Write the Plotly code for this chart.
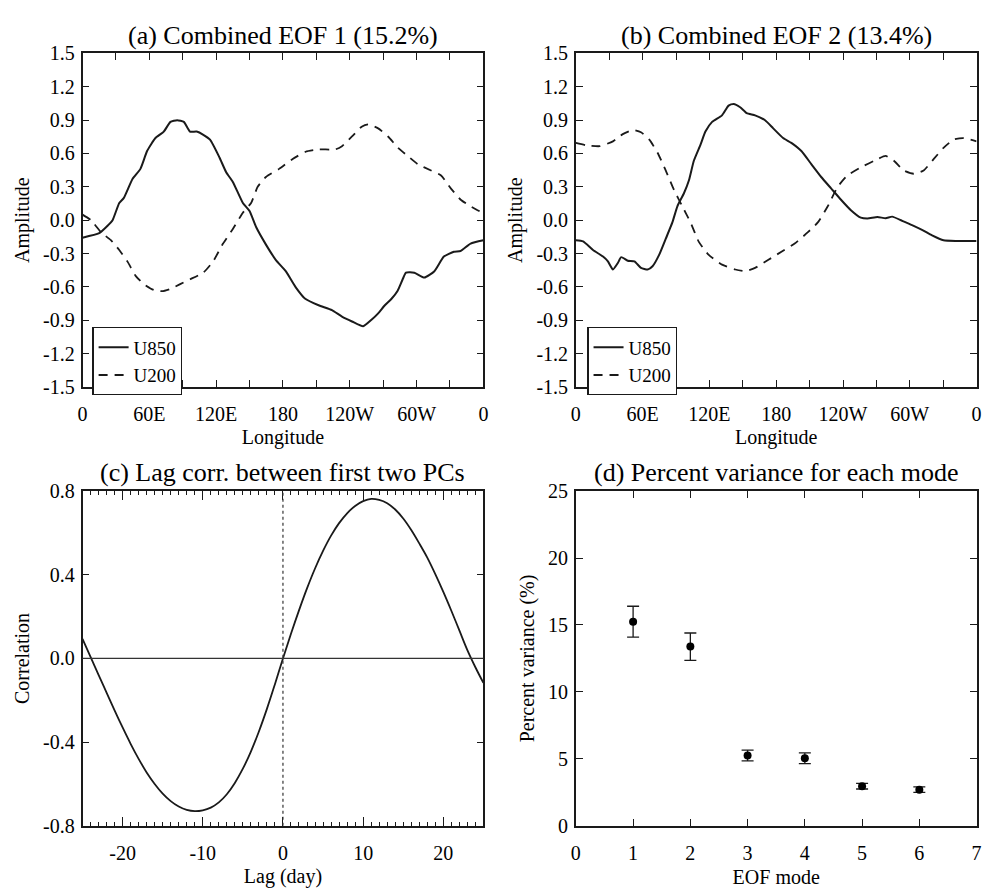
import plotly.graph_objects as go

# ---------------- data ----------------
# (a) Combined EOF 1
a_u850_lon = [0, 15, 22.5, 27, 33, 37, 45, 52, 58, 65.5, 73, 79, 85, 91, 96.5, 102.5, 108.5, 114.5,
              123, 129, 135, 144, 150, 156, 165, 173.5, 182.5, 191.5, 200, 212, 224, 233, 242, 252,
              259.5, 265.5, 271.5, 277.5, 283, 287.5, 290.5, 298, 307, 316, 324.5, 333.5, 339.5, 348.5, 360]
a_u850_val = [-0.157, -0.117, -0.05, 0.0, 0.155, 0.198, 0.373, 0.461, 0.621, 0.738, 0.796, 0.883, 0.898,
              0.883, 0.796, 0.796, 0.767, 0.723, 0.563, 0.431, 0.344, 0.155, 0.082, -0.064, -0.224,
              -0.356, -0.458, -0.603, -0.706, -0.764, -0.808, -0.866, -0.910, -0.953, -0.895, -0.837,
              -0.764, -0.706, -0.633, -0.531, -0.472, -0.472, -0.516, -0.458, -0.327, -0.283, -0.277,
              -0.210, -0.181]
a_u200_lon = [0, 7.7, 16.6, 25.5, 33, 40.3, 47.7, 55, 64, 71.4, 78.8, 87.7, 96.6, 108.4, 117.3, 126.2,
              135, 144, 151.4, 157.3, 164.7, 176.6, 188.4, 200.3, 212, 227, 233, 242, 250.7, 256.6,
              265.5, 274.4, 283.3, 292, 301, 313, 322, 330.7, 339.6, 348.4, 360]
a_u200_val = [0.05, 0.0, -0.108, -0.18, -0.268, -0.37, -0.50, -0.574, -0.627, -0.638, -0.618, -0.574,
              -0.531, -0.472, -0.37, -0.21, -0.079, 0.067, 0.155, 0.30, 0.388, 0.461, 0.548, 0.615,
              0.636, 0.636, 0.665, 0.752, 0.84, 0.86, 0.825, 0.752, 0.65, 0.577, 0.504, 0.446, 0.402,
              0.286, 0.184, 0.125, 0.061]

# (b) Combined EOF 2
b_u850_lon = [0, 6.5, 15.4, 24.4, 28.8, 33.3, 37.7, 40.7, 46.6, 52.6, 58.5, 64.5, 68.9, 74.8, 80.8,
              86.7, 91.2, 97.1, 101.6, 106, 112, 116.4, 122.4, 131.3, 137.2, 141.7, 147.6, 153.5, 161,
              170, 177.3, 186.2, 193.6, 202.6, 211.5, 220.4, 229.3, 238.2, 247.1, 256, 262, 271,
              278.3, 284.2, 293.2, 302, 311, 320, 330.3, 342, 360]
b_u850_val = [-0.18, -0.19, -0.268, -0.327, -0.37, -0.443, -0.385, -0.332, -0.364, -0.37, -0.429,
              -0.443, -0.414, -0.312, -0.166, -0.02, 0.125, 0.242, 0.359, 0.534, 0.679, 0.796, 0.883,
              0.942, 1.029, 1.044, 1.015, 0.962, 0.942, 0.898, 0.825, 0.738, 0.694, 0.621, 0.504,
              0.388, 0.286, 0.184, 0.09, 0.023, 0.015, 0.029, 0.017, 0.032, -0.006, -0.044, -0.087,
              -0.137, -0.181, -0.187, -0.187]
b_u200_lon = [0, 9.5, 21.4, 33.3, 42.2, 51, 58.5, 66, 73.4, 80.8, 88.2, 95.6, 103, 110.5, 119.4,
              131.3, 143.2, 152, 161, 173, 184.7, 196.6, 208.5, 217.4, 226.3, 235.2, 244, 256, 268,
              278.3, 285.7, 294.6, 303.5, 312.4, 321.4, 330.3, 339.2, 348, 360]
b_u200_val = [0.694, 0.673, 0.665, 0.708, 0.773, 0.81, 0.79, 0.723, 0.606, 0.446, 0.271, 0.125,
              -0.02, -0.195, -0.312, -0.399, -0.443, -0.458, -0.429, -0.356, -0.283, -0.21, -0.108,
              -0.02, 0.125, 0.30, 0.402, 0.475, 0.534, 0.577, 0.534, 0.446, 0.417, 0.446, 0.548,
              0.65, 0.723, 0.738, 0.708]

# (c) Lag correlation between PC1 and PC2 (lag -25 ... 25 days)
lag_days = list(range(-25, 26))
lag_corr = [0.093, 0.008, -0.078, -0.163, -0.248, -0.330, -0.408, -0.480, -0.545, -0.600,
            -0.646, -0.682, -0.708, -0.724, -0.730, -0.726, -0.713, -0.688, -0.649, -0.595,
            -0.527, -0.445, -0.349, -0.241, -0.123, 0.0,
            0.118, 0.230, 0.335, 0.430, 0.514, 0.587, 0.647, 0.694, 0.729, 0.752,
            0.763, 0.758, 0.742, 0.712, 0.669, 0.614, 0.550, 0.482, 0.403, 0.318,
            0.228, 0.134, 0.040, -0.042, -0.117]

# (d) Percent variance
eof_mode = [1, 2, 3, 4, 5, 6]
pct_var = [15.25, 13.4, 5.25, 5.05, 2.95, 2.7]
pct_err_plus = [1.15, 1.0, 0.4, 0.4, 0.22, 0.2]
pct_err_minus = [1.15, 1.05, 0.4, 0.4, 0.2, 0.2]

# tick labels
lon_tickvals = [0, 30, 60, 90, 120, 150, 180, 210, 240, 270, 300, 330, 360]
lon_ticktext = ["0", "", "60E", "", "120E", "", "180", "", "120W", "", "60W", "", "0"]
amp_tickvals = [1.5, 1.2, 0.9, 0.6, 0.3, 0.0, -0.3, -0.6, -0.9, -1.2, -1.5]
amp_ticktext = ["1.5", "1.2", "0.9", "0.6", "0.3", "0.0", "-0.3", "-0.6", "-0.9", "-1.2", "-1.5"]
corr_tickvals = [0.8, 0.4, 0.0, -0.4, -0.8]
corr_ticktext = ["0.8", "0.4", "0.0", "-0.4", "-0.8"]
lag_tickvals = [-20, -10, 0, 10, 20]
lag_ticktext = ["-20", "-10", "0", "10", "20"]

titles = ["(a) Combined EOF 1 (15.2%)", "(b) Combined EOF 2 (13.4%)",
          "(c) Lag corr. between first two PCs", "(d) Percent variance for each mode"]

# ---------------- figure ----------------
FONT = "Liberation Serif"
INK = "#1a1a1a"
W, H = 988, 888

xa_dom = [78.3 / W, 483.3 / W]
xb_dom = [576.7 / W, 981.5 / W]
top_dom = [1 - 385.7 / H, 1 - 43.3 / H]
bot_dom = [1 - 835.5 / H, 1 - 492.3 / H]

fig = go.Figure()

solid = dict(color=INK, width=2)
dashed = dict(color=INK, width=1.8, dash="9px,7px")

fig.add_trace(go.Scatter(x=a_u850_lon, y=a_u850_val, mode="lines", name="U850",
                         line=dict(shape="spline", smoothing=0.5, **solid), xaxis="x", yaxis="y",
                         legend="legend"))
fig.add_trace(go.Scatter(x=a_u200_lon, y=a_u200_val, mode="lines", name="U200",
                         line=dict(shape="spline", smoothing=0.5, **dashed), xaxis="x", yaxis="y",
                         legend="legend"))
fig.add_trace(go.Scatter(x=b_u850_lon, y=b_u850_val, mode="lines", name="U850",
                         line=dict(shape="spline", smoothing=0.5, **solid), xaxis="x2", yaxis="y2",
                         legend="legend2"))
fig.add_trace(go.Scatter(x=b_u200_lon, y=b_u200_val, mode="lines", name="U200",
                         line=dict(shape="spline", smoothing=0.5, **dashed), xaxis="x2", yaxis="y2",
                         legend="legend2"))
fig.add_trace(go.Scatter(x=lag_days, y=lag_corr, mode="lines", showlegend=False,
                         line=dict(shape="spline", smoothing=1.0, color=INK, width=1.8),
                         xaxis="x3", yaxis="y3"))
fig.add_trace(go.Scatter(x=eof_mode, y=pct_var, mode="markers", showlegend=False,
                         marker=dict(color="black", size=8),
                         error_y=dict(type="data", symmetric=False, array=pct_err_plus,
                                      arrayminus=pct_err_minus, color=INK, thickness=1.3, width=6),
                         xaxis="x4", yaxis="y4"))

tickfont = dict(family=FONT, size=20, color="black")
titlefont = dict(family=FONT, size=20, color="black")

common = dict(showline=True, linecolor=INK, linewidth=1.5, mirror="ticks", ticks="inside",
              tickcolor=INK, tickwidth=1.2, ticklen=7, showgrid=False, zeroline=False,
              tickfont=tickfont, ticklabeloverflow="allow")
xcommon = {**common, "ticklabelstandoff": 8}
ycommon = {**common, "ticklabelstandoff": 2}
lag_minor = dict(dtick=1, ticks="inside", ticklen=4, tickwidth=1, tickcolor=INK)

fig.update_layout(
    width=W, height=H, margin=dict(l=0, r=0, t=0, b=0),
    paper_bgcolor="white", plot_bgcolor="white",
    font=dict(family=FONT, size=20, color="black"),
    xaxis=dict(domain=xa_dom, anchor="y", range=[0, 360], tickvals=lon_tickvals,
               ticktext=lon_ticktext, title=dict(text="Longitude", font=titlefont, standoff=6),
               **xcommon),
    yaxis=dict(domain=top_dom, anchor="x", range=[-1.5, 1.5], tickvals=amp_tickvals,
               ticktext=amp_ticktext, title=dict(text="Amplitude", font=titlefont, standoff=8),
               **ycommon),
    xaxis2=dict(domain=xb_dom, anchor="y2", range=[0, 360], tickvals=lon_tickvals,
                ticktext=lon_ticktext, title=dict(text="Longitude", font=titlefont, standoff=6),
                **xcommon),
    yaxis2=dict(domain=top_dom, anchor="x2", range=[-1.5, 1.5], tickvals=amp_tickvals,
                ticktext=amp_ticktext, title=dict(text="Amplitude", font=titlefont, standoff=8),
                **ycommon),
    xaxis3=dict(domain=xa_dom, anchor="y3", range=[-25, 25], tickvals=lag_tickvals,
                ticktext=lag_ticktext, title=dict(text="Lag (day)", font=titlefont, standoff=7),
                minor=lag_minor, **{**xcommon, "ticklen": 9}),
    # top copy of the lag axis so that the minor ticks also appear along the upper frame
    xaxis5=dict(overlaying="x3", anchor="y3", side="top", range=[-25, 25],
                tickvals=lag_tickvals, showticklabels=False, ticks="inside", ticklen=9,
                tickwidth=1.2, tickcolor=INK, showline=False, showgrid=False, zeroline=False,
                minor=lag_minor),
    yaxis3=dict(domain=bot_dom, anchor="x3", range=[-0.8, 0.8], tickvals=corr_tickvals,
                ticktext=corr_ticktext, title=dict(text="Correlation", font=titlefont, standoff=8),
                **ycommon),
    xaxis4=dict(domain=xb_dom, anchor="y4", range=[0, 7], dtick=1,
                title=dict(text="EOF mode", font=titlefont, standoff=7), **xcommon),
    yaxis4=dict(domain=bot_dom, anchor="x4", range=[0, 25], dtick=5,
                title=dict(text="Percent variance (%)", font=titlefont, standoff=8), **ycommon),
    legend=dict(x=88.3 / W, y=1 - 324.3 / H, xanchor="left", yanchor="top",
                bordercolor=INK, borderwidth=1.2, bgcolor="white",
                font=dict(family=FONT, size=19, color="black"), tracegroupgap=0),
    legend2=dict(x=588.3 / W, y=1 - 324.3 / H, xanchor="left", yanchor="top",
                 bordercolor=INK, borderwidth=1.2, bgcolor="white",
                 font=dict(family=FONT, size=19, color="black"), tracegroupgap=0),
)

# reference lines in panel (c)
fig.add_shape(type="line", xref="x3 domain", yref="y3", x0=0, x1=1, y0=0, y1=0,
              line=dict(color="#333333", width=1.2))
fig.add_shape(type="line", xref="x3", yref="y3 domain", x0=0, x1=0, y0=0, y1=1,
              line=dict(color="#333333", width=1.2, dash="dot"))

# panel titles
centers = [(sum(xa_dom) / 2, 1 - 25 / H), (sum(xb_dom) / 2, 1 - 25 / H),
           (sum(xa_dom) / 2, 1 - 473 / H), (sum(xb_dom) / 2, 1 - 473 / H)]
for t, (cx, cy) in zip(titles, centers):
    fig.add_annotation(text=t, x=cx, y=cy, xref="paper", yref="paper", showarrow=False,
                       xanchor="center", yanchor="middle",
                       font=dict(family=FONT, size=26, color="black"))

fig.write_html("out.html", config={"displayModeBar": False},
               post_script="document.body.style.margin='0';document.body.style.overflow='hidden';")
